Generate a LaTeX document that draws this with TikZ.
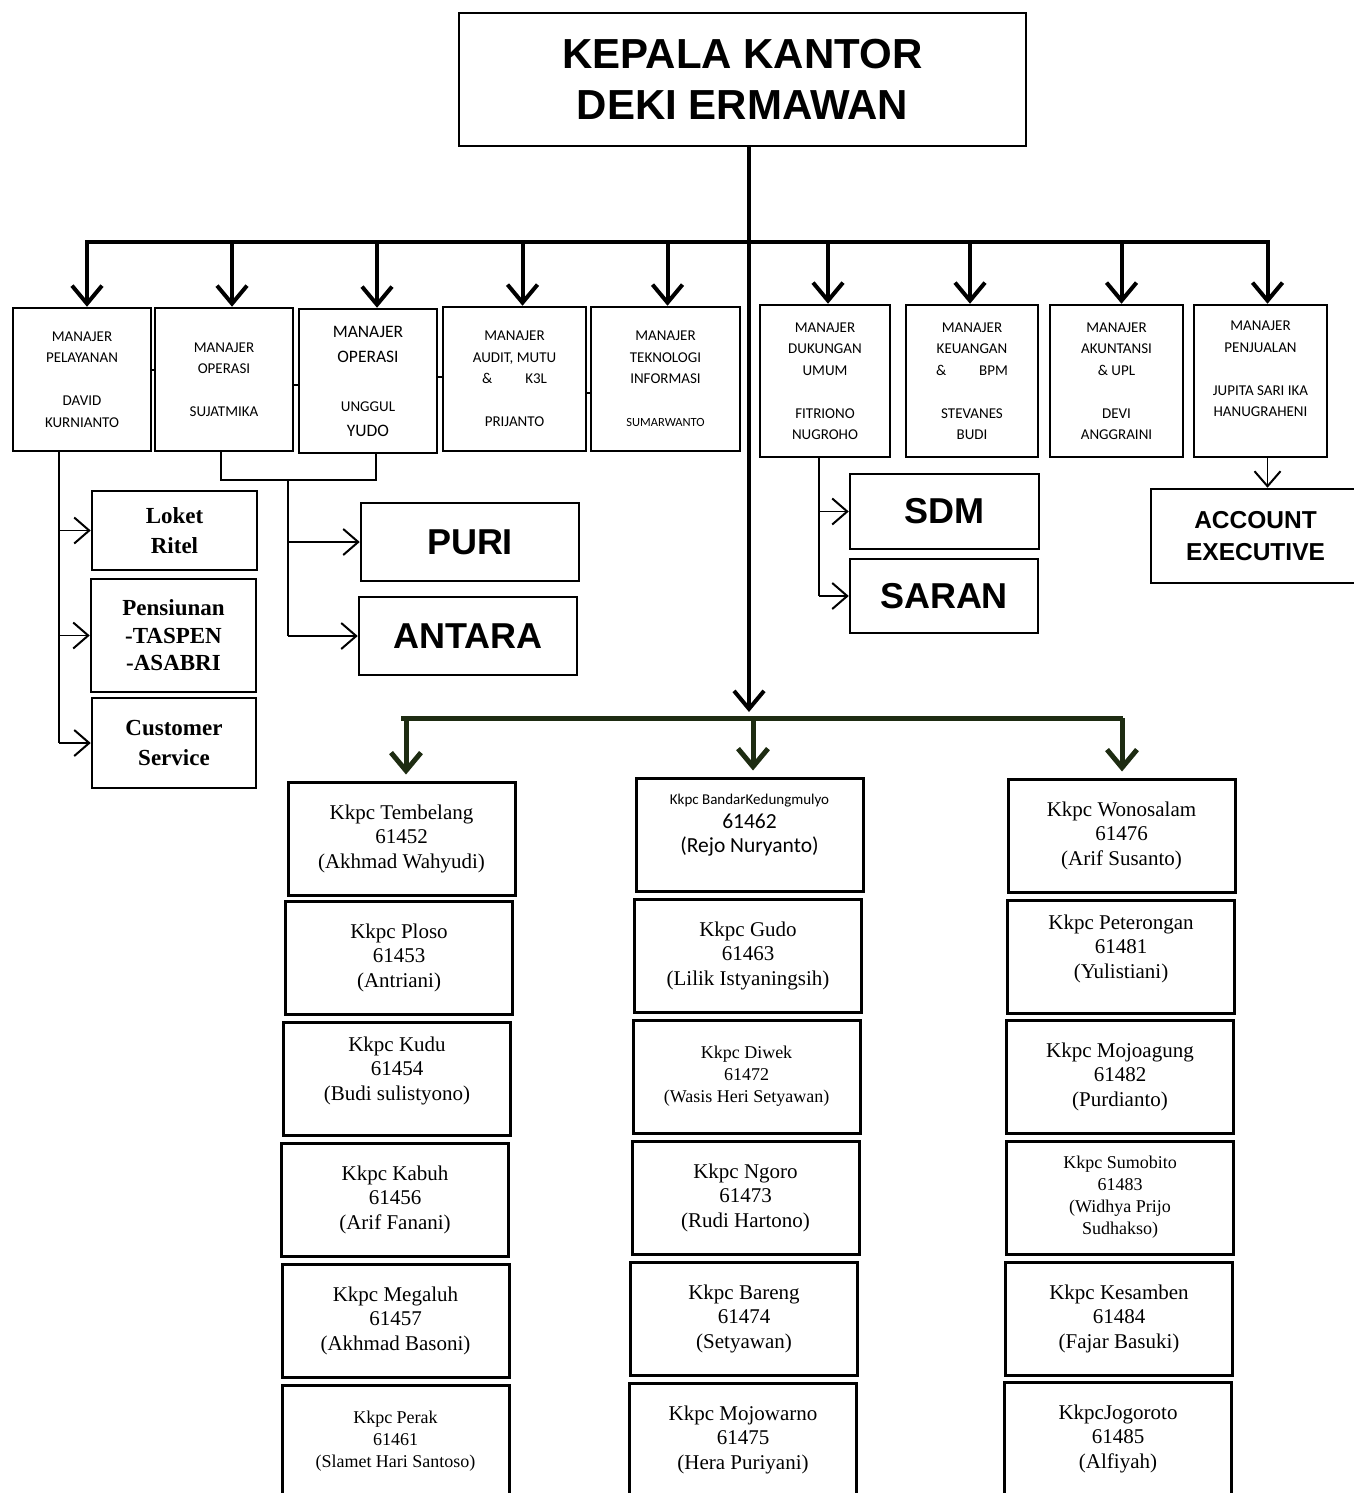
\documentclass[tikz,border=0pt]{standalone}
\usepackage{fontspec}
\setmainfont{Liberation Serif}
\setsansfont{Liberation Sans}
\newfontfamily\calib{Carlito}
\usetikzlibrary{arrows.meta}
\definecolor{darkolive}{RGB}{30,44,18}

\begin{document}
\begin{tikzpicture}[x=1pt, y=-1pt,
  box/.style={draw, line width=2.5pt, inner sep=0pt, align=center},
  mgr/.style={box, font=\calib\fontsize{15}{21.5}\selectfont},
  unit/.style={box, font=\sffamily\bfseries\fontsize{36}{40}\selectfont},
  loket/.style={box, font=\bfseries\fontsize{23}{30}\selectfont},
  kkpc/.style={box, line width=3pt, minimum width=227pt, minimum height=113pt,
               font=\fontsize{21}{24.5}\selectfont},
  kkpcsmall/.style={kkpc, font=\fontsize{18}{22}\selectfont},
  link/.style={line width=1.6pt},
  smallarrow/.style={link, -{Straight Barb[length=15pt, width=26pt, line width=2pt]}},
  bus/.style={line width=4pt},
  bigarrow/.style={bus, -{Straight Barb[length=18pt, width=30pt]}},
  gbus/.style={line width=5pt, draw=darkolive},
  garrow/.style={gbus, -{Straight Barb[length=18pt, width=30pt]}, shorten >=6pt}]

  \useasboundingbox (0,0) rectangle (1353,1493);

  % Head of office
  \node[box, minimum width=567pt, minimum height=133pt,
        font=\sffamily\bfseries\fontsize{42}{51}\selectfont] (kepala) at (742.5,79.5)
        {KEPALA KANTOR\\DEKI ERMAWAN};

  % Notable points
  \coordinate (bus) at (749,242);
  \coordinate (hub) at (749,718);

  % Managers
  \node[mgr, minimum width=138pt, minimum height=143pt] (m1) at (82,379.5)
        {MANAJER\\PELAYANAN\\[21.5pt]DAVID\\KURNIANTO};
  \node[mgr, minimum width=138pt, minimum height=143pt] (m2) at (224,379.5)
        {MANAJER\\OPERASI\\[21.5pt]SUJATMIKA};
  \node[mgr, minimum width=138pt, minimum height=144pt,
        font=\calib\fontsize{17.5}{25}\selectfont] (m3) at (368,381)
        {MANAJER\\OPERASI\\[24pt]\fontsize{15}{21.5}\selectfont UNGGUL\\YUDO};
  \node[mgr, minimum width=143pt, minimum height=144pt] (m4) at (514.5,379)
        {MANAJER\\AUDIT, MUTU\\\&\hspace{2.2em}K3L\\[21.5pt]PRIJANTO};
  \node[mgr, minimum width=149pt, minimum height=144pt] (m5) at (665.5,379)
        {MANAJER\\TEKNOLOGI\\INFORMASI\\[21.5pt]{\fontsize{12.5}{15}\selectfont SUMARWANTO}};
  \node[mgr, minimum width=130pt, minimum height=152pt] (m6) at (825,381)
        {MANAJER\\DUKUNGAN\\UMUM\\[21.5pt]FITRIONO\\NUGROHO};
  \node[mgr, minimum width=132pt, minimum height=152pt] (m7) at (972,381)
        {MANAJER\\KEUANGAN\\\&\hspace{2.2em}BPM\\[21.5pt]STEVANES\\BUDI};
  \node[mgr, minimum width=133pt, minimum height=152pt] (m8) at (1116.5,381)
        {MANAJER\\AKUNTANSI\\\& UPL\\[21.5pt]DEVI\\ANGGRAINI};
  \node[mgr, minimum width=133pt, minimum height=152pt, text depth=24pt] (m9) at (1260.5,381)
        {MANAJER\\PENJUALAN\\[21.5pt]JUPITA SARI IKA\\HANUGRAHENI};

  % Units under the managers
  \node[loket, minimum width=165pt, minimum height=79pt] (loket) at (174.5,530.5) {Loket\\Ritel};
  \node[loket, minimum width=165pt, minimum height=113pt, font=\bfseries\fontsize{23}{27.5}\selectfont]
        (pensiun) at (173.5,635.5) {Pensiunan\\-TASPEN\\-ASABRI};
  \node[loket, minimum width=164pt, minimum height=90pt] (cs) at (174,743) {Customer\\Service};
  \node[unit, minimum width=218pt, minimum height=78pt] (puri) at (470,542) {PURI};
  \node[unit, minimum width=218pt, minimum height=78pt] (antara) at (468,636) {ANTARA};
  \node[unit, minimum width=189pt, minimum height=75pt] (sdm) at (944.5,511.5) {SDM};
  \node[unit, minimum width=188pt, minimum height=74pt] (saran) at (944,596) {SARAN};
  \node[unit, minimum width=209pt, minimum height=94pt, font=\sffamily\bfseries\fontsize{24.5}{32}\selectfont]
        (account) at (1255.5,536) {ACCOUNT\\EXECUTIVE};

  % Kkpc offices, first column
  \node[kkpc] (k11) at (401.5,838.5) {Kkpc Tembelang\\61452\\(Akhmad Wahyudi)};
  \node[kkpc] (k12) at (399,957.5) {Kkpc Ploso\\61453\\(Antriani)};
  \node[kkpc, text depth=20.5pt] (k13) at (397,1078.5) {Kkpc Kudu\\61454\\(Budi sulistyono)};
  \node[kkpc] (k14) at (395,1199.5) {Kkpc Kabuh\\61456\\(Arif Fanani)};
  \node[kkpc] (k15) at (395.5,1320.5) {Kkpc Megaluh\\61457\\(Akhmad Basoni)};
  \node[kkpcsmall] (k16) at (395.5,1441.5) {Kkpc Perak\\61461\\(Slamet Hari Santoso)};

  % second column
  \node[kkpc, font=\calib\fontsize{21.5}{24}\selectfont, text depth=23pt] (k21) at (749.5,834.5)
        {{\fontsize{15}{18}\selectfont Kkpc BandarKedungmulyo}\\61462\\(Rejo Nuryanto)};
  \node[kkpc] (k22) at (748,955.5) {Kkpc Gudo\\61463\\(Lilik Istyaningsih)};
  \node[kkpcsmall] (k23) at (746.5,1076.5) {Kkpc Diwek\\61472\\(Wasis Heri Setyawan)};
  \node[kkpc] (k24) at (745.5,1197.5) {Kkpc Ngoro\\61473\\(Rudi Hartono)};
  \node[kkpc] (k25) at (744,1318.5) {Kkpc Bareng\\61474\\(Setyawan)};
  \node[kkpc] (k26) at (743,1439.5) {Kkpc Mojowarno\\61475\\(Hera Puriyani)};

  % third column
  \node[kkpc] (k31) at (1121.5,835.5) {Kkpc Wonosalam\\61476\\(Arif Susanto)};
  \node[kkpc, text depth=20.5pt] (k32) at (1121,956.5) {Kkpc Peterongan\\61481\\(Yulistiani)};
  \node[kkpc] (k33) at (1120,1076.5) {Kkpc Mojoagung\\61482\\(Purdianto)};
  \node[kkpcsmall] (k34) at (1120,1197.5) {Kkpc Sumobito\\61483\\(Widhya Prijo\\Sudhakso)};
  \node[kkpc] (k35) at (1119,1318.5) {Kkpc Kesamben\\61484\\(Fajar Basuki)};
  \node[kkpc] (k36) at (1118,1438.5) {KkpcJogoroto\\61485\\(Alfiyah)};

  % Trunk, bus and arrows to the managers
  \draw[bus] (kepala.south -| bus) -- (bus);
  \draw[bigarrow] (bus) -- ([yshift=6pt]hub);
  \draw[bus] ([xshift=3pt]m1.north |- bus) -- ([xshift=9pt]m9.north |- bus);
  \foreach \m/\dx in {m1/5,m2/8,m3/9,m4/8,m5/2,m6/3,m7/-2,m8/5,m9/7}
    \draw[bigarrow] ([xshift=\dx pt]\m.north |- bus) -- ([xshift=\dx pt]\m.north);

  % Links between neighbouring managers
  \draw[link] ([yshift=9.5pt]m1.east) -- ([yshift=9.5pt]m1.east -| m2.west);
  \draw[link] ([yshift=-5.5pt]m2.east) -- ([yshift=-5.5pt]m2.east -| m3.west);
  \draw[link] ([yshift=4pt]m3.east) -- ([yshift=4pt]m3.east -| m4.west);
  \draw[link] ([yshift=-14pt]m4.east) -- ([yshift=-14pt]m4.east -| m5.west);

  % Pelayanan
  \draw[link] ([xshift=-23pt]m1.south) -- ([xshift=-23pt]m1.south |- cs.west);
  \foreach \u in {loket,pensiun,cs}
    \draw[smallarrow] ([xshift=-23pt]m1.south |- \u.west) -- (\u.west);

  % Operasi
  \coordinate (opj) at (288,480);
  \draw[link] ([xshift=-3pt]m2.south) |- (opj) -| ([xshift=8pt]m3.south);
  \draw[link] (opj) -- (opj |- antara.west);
  \foreach \u in {puri,antara}
    \draw[smallarrow] (opj |- \u.west) -- (\u.west);

  % Dukungan umum
  \draw[link] ([xshift=-6pt]m6.south) -- ([xshift=-6pt]m6.south |- saran.west);
  \foreach \u in {sdm,saran}
    \draw[smallarrow] ([xshift=-6pt]m6.south |- \u.west) -- (\u.west);

  % Penjualan
  \draw[smallarrow] ([xshift=7pt]m9.south) -- ([xshift=7pt]m9.south |- account.north);

  % Green bus to the Kkpc columns
  \draw[gbus] ([xshift=-0.5pt]k11.north |- hub) -- ([xshift=1pt]k31.north |- hub);
  \foreach \k/\dx in {k11/4.5,k21/3.5,k31/0.5}
    \draw[garrow] ([xshift=\dx pt]\k.north |- hub) -- ([xshift=\dx pt]\k.north);

\end{tikzpicture}
\end{document}
